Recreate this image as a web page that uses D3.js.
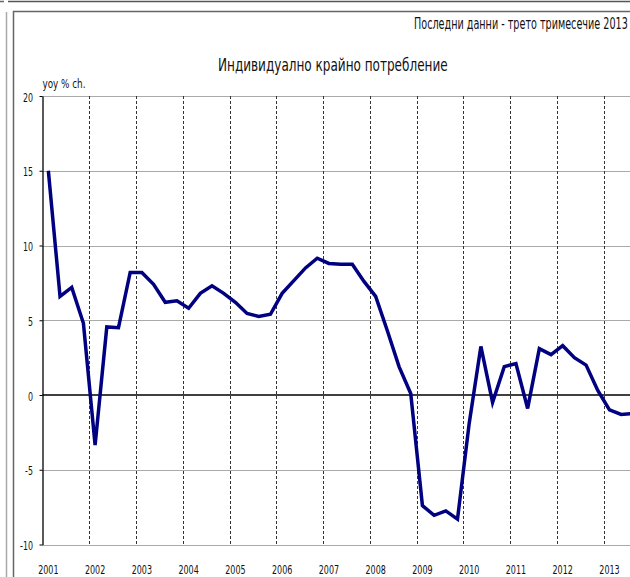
<!DOCTYPE html>
<html>
<head>
<meta charset="utf-8">
<script src="https://cdn.jsdelivr.net/npm/d3@7"></script>
<style>
  body { margin: 0; background: #fff; }
  svg { display: block; font-family: "DejaVu Sans", sans-serif; }
</style>
</head>
<body>
<svg id="chart" width="630" height="577"></svg>
<script>
// quarterly yoy % change, 2001 Q1 .. 2013 Q3
const years = [2001, 2002, 2003, 2004, 2005, 2006, 2007, 2008, 2009, 2010, 2011, 2012, 2013];
const values = [
  15.0, 6.6, 7.2, 4.8,
  -3.35, 4.55, 4.5, 8.2,
  8.2, 7.4, 6.2, 6.3,
  5.8, 6.8, 7.3, 6.8,
  6.2, 5.45, 5.25, 5.4,
  6.8, 7.65, 8.5, 9.15,
  8.8, 8.75, 8.75, 7.6,
  6.6, 4.3, 1.9, 0.1,
  -7.4, -8.05, -7.75, -8.3,
  -1.9, 3.25, -0.5, 1.9,
  2.1, -0.9, 3.1, 2.7,
  3.3, 2.5, 2.0, 0.3,
  -1.0, -1.3, -1.25
];
const yTicks = [-10, -5, 0, 5, 10, 15, 20];
const title = 'Индивидуално крайно потребление';
const subtitle = 'Последни данни - трето тримесечие 2013';
const yLabel = 'yoy % ch.';

const quarters = [];
years.forEach(y => { for (let q = 1; q <= 4; q++) quarters.push(y + 'Q' + q); });
const cats = quarters.slice(0, values.length);
const data = cats.map((c, i) => ({key: c, value: values[i]}));

const svg = d3.select('#chart');
const plotLeft = 42.5, step = 11.69, plotTop = 96, plotBottom = 544.5;

const x = d3.scaleBand()
  .domain(cats)
  .range([plotLeft, plotLeft + step * cats.length])
  .padding(0);
const y = d3.scaleLinear().domain([-10, 20]).range([plotBottom, plotTop]);
const plotRight = plotLeft + step * cats.length;

// narrow text: draw at origin, then squeeze with a transform
// (f < 1 is a factor, f > 1 is a target width in px)
function narrowText(parent, str, tx, ty, size, f, anchor) {
  const t = parent.append('text')
    .attr('font-size', size).attr('fill', '#111')
    .attr('text-anchor', anchor || 'start')
    .text(str);
  const w = t.node().getComputedTextLength();
  const k = f > 1 ? f / w : f;
  t.attr('transform', `translate(${tx},${ty}) scale(${k},1)`);
  return t;
}

// frames
svg.append('line').attr('x1', 0).attr('x2', 4).attr('y1', 1.5).attr('y2', 1.5)
  .attr('stroke', '#666').attr('stroke-width', 1.5);
svg.append('line').attr('x1', 8).attr('x2', 630).attr('y1', 1.5).attr('y2', 1.5)
  .attr('stroke', '#555').attr('stroke-width', 1.5);
svg.append('line').attr('x1', 6.5).attr('x2', 6.5).attr('y1', 12).attr('y2', 577)
  .attr('stroke', '#aaa').attr('stroke-width', 1.5);
svg.append('path').attr('d', 'M13.5,577V11.5H630')
  .attr('fill', 'none').attr('stroke', '#666').attr('stroke-width', 1.5);

// horizontal grid
svg.append('g').selectAll('line')
  .data(yTicks.filter(d => d !== 0))
  .join('line')
  .attr('x1', plotLeft).attr('x2', plotRight)
  .attr('y1', d => Math.round(y(d)) + 0.5).attr('y2', d => Math.round(y(d)) + 0.5)
  .attr('stroke', '#555').attr('stroke-dasharray', '1,1');

// vertical grid at year starts
svg.append('g').selectAll('line')
  .data(years.slice(1))
  .join('line')
  .attr('x1', d => Math.round(x(d + 'Q1')) + 0.5).attr('x2', d => Math.round(x(d + 'Q1')) + 0.5)
  .attr('y1', plotTop).attr('y2', plotBottom)
  .attr('stroke', '#333').attr('stroke-dasharray', '3,2');

// zero line
svg.append('line')
  .attr('x1', plotLeft).attr('x2', plotRight)
  .attr('y1', y(0)).attr('y2', y(0))
  .attr('stroke', '#000').attr('stroke-width', 1.3);

// y axis (line + ticks from d3, labels squeezed by hand)
const yAxis = svg.append('g')
  .attr('transform', `translate(${plotLeft},0)`)
  .call(d3.axisLeft(y).tickValues(yTicks).tickSize(3).tickSizeOuter(0).tickFormat(''));
yAxis.select('.domain').attr('stroke', '#000').attr('stroke-width', 1.3);
yAxis.selectAll('.tick line').attr('stroke', '#000');

const yLabels = svg.append('g');
yTicks.forEach(v => narrowText(yLabels, v, 33, y(v) + 5.5, 12, 0.66, 'end'));

// x labels
const xLabels = svg.append('g');
years.forEach(yr => narrowText(xLabels, yr, x(yr + 'Q1') + x.bandwidth() / 2, 573.5, 12.5, 0.64, 'middle'));

// line
const line = d3.line()
  .x(d => x(d.key) + x.bandwidth() / 2)
  .y(d => y(d.value));
svg.append('path')
  .datum(data)
  .attr('d', line)
  .attr('fill', 'none')
  .attr('stroke', '#000080')
  .attr('stroke-width', 3.5)
  .attr('stroke-linejoin', 'miter')
  .attr('stroke-miterlimit', 4);

// texts
narrowText(svg, title, 218, 70.5, 18, 230);
narrowText(svg, subtitle, 414, 28.5, 15, 214);
narrowText(svg, yLabel, 42.5, 87.5, 11.5, 43);
</script>
</body>
</html>
